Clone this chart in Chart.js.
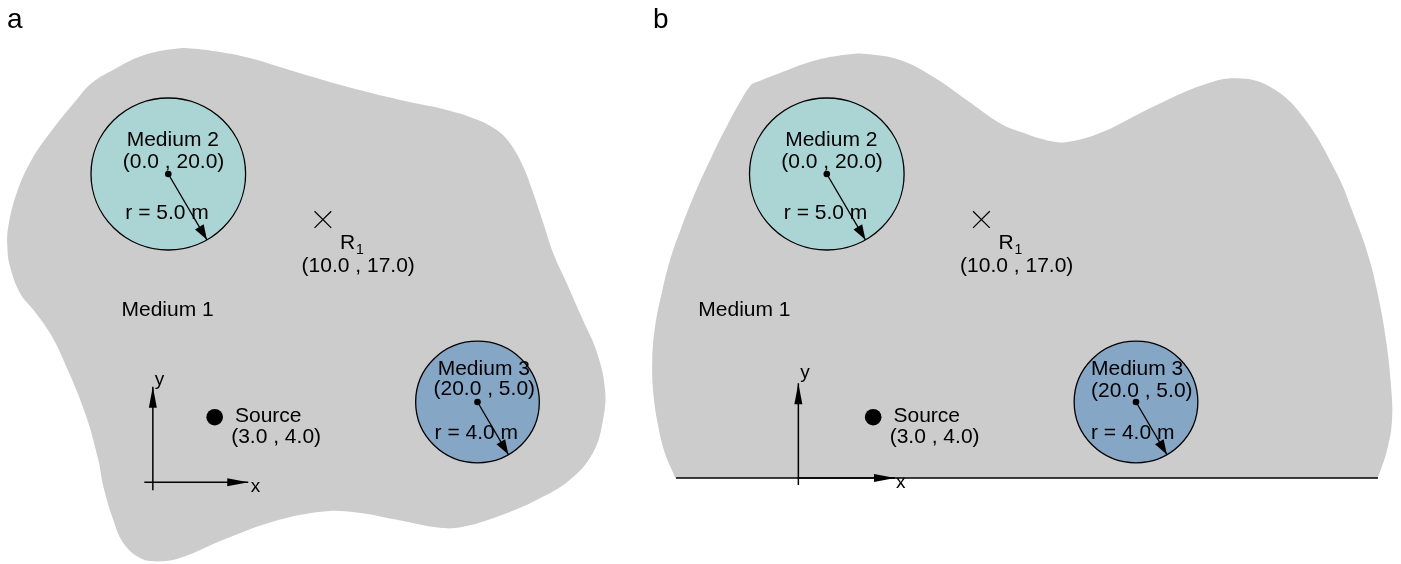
<!DOCTYPE html>
<html>
<head>
<meta charset="utf-8">
<script src="https://cdn.jsdelivr.net/npm/chart.js@4.4.1/dist/chart.umd.min.js"></script>
<style>
  html, body { margin: 0; padding: 0; background: #ffffff; }
  #wrap { position: relative; width: 1401px; height: 564px; overflow: hidden; background: #ffffff; }
  canvas.panel { position: absolute; top: 0; }
</style>
</head>
<body>
<div id="wrap">
  <canvas id="panelA" class="panel" width="650" height="564" style="left:0px"></canvas>
  <canvas id="panelB" class="panel" width="751" height="564" style="left:650px"></canvas>
</div>
<script>
// ------------------------------------------------------------------
// DATA (metres)
// ------------------------------------------------------------------
const mediumNames = ['Medium 2', 'Medium 3'];
const mediumX = [0.0, 20.0];
const mediumY = [20.0, 5.0];
const mediumR = [5.0, 4.0];
const radiusTipX = [2.5, 22.0];
const radiusTipY = [15.67, 1.54];

const receiverName = ['R'];
const receiverIndex = ['1'];
const receiverX = [10.0];
const receiverY = [17.0];

const sourceName = ['Source'];
const sourceX = [3.0];
const sourceY = [4.0];

const axisNames = ['y', 'x'];
// panel a axis arrows: start x, start y, tip x, tip y
const axesAX0 = [-1.0, -1.55];
const axesAY0 = [-0.8, -0.28];
const axesAX1 = [-1.0, 5.17];
const axesAY1 = [6.0, -0.28];
// panel b axis arrows
const axesBX0 = [-1.84, -1.84];
const axesBY0 = [-0.46, 0.0];
const axesBX1 = [-1.84, 4.41];
const axesBY1 = [6.23, 0.0];
// panel b boundary line (half-space surface)
const baseLineX = [-9.75, 35.65];
const baseLineY = [0.0, 0.0];

// Medium 1 label anchors
const medium1A = [-3.03, 10.66];
const medium1B = [-8.31, 10.68];

// outline of medium 1, panel a (closed smooth curve)
const blobAX = [-0.10, 1.19, 3.13, 5.28, 7.42, 11.56, 15.83, 17.57, 19.73, 21.24, 22.10, 22.96, 23.61,
  24.26, 24.90, 25.77, 26.82, 27.73, 28.25, 28.12, 27.47, 25.98, 23.85, 21.26, 19.06, 17.57, 14.79,
  12.19, 10.03, 6.79, 3.56, 0.76, -0.75, -1.83, -2.91, -3.56, -4.20, -4.53, -5.39, -6.79, -7.65,
  -8.73, -9.59, -10.24, -10.41, -10.35, -9.81, -8.84, -7.65, -5.93, -4.95, -3.34, -1.83];
const blobAY = [28.17, 28.28, 28.06, 27.63, 26.97, 25.74, 24.68, 24.32, 23.66, 22.89, 22.02, 20.48, 18.73,
  16.76, 14.78, 12.81, 10.39, 8.24, 5.80, 3.83, 1.66, -0.12, -1.43, -2.55, -3.21, -3.28, -2.75,
  -2.27, -2.20, -2.86, -4.07, -5.27, -5.49, -5.27, -4.28, -2.75, -0.56, 1.20, 4.29, 7.78, 9.53,
  11.07, 12.16, 13.91, 15.23, 16.55, 18.74, 20.93, 22.71, 24.88, 25.98, 26.97, 27.73];

// outline of medium 1, panel b (half-space, cut by the surface y = 0)
const blobBX = [-4.86, -2.83, -0.65, 1.50, 2.58, 4.73, 6.87, 9.05, 11.20, 12.50, 14.63, 15.73, 17.87,
  21.10, 24.33, 26.51, 28.67, 30.80, 32.98, 34.04, 35.01, 35.65, 36.17, 36.49, 36.56, 36.24, 35.65,
  35.0, -9.24, -9.82, -10.47, -10.90, -11.22, -11.29, -11.11, -10.68, -10.14, -9.39, -8.53, -7.45,
  -6.37, -5.29, -4.86];
const blobBY = [25.92, 26.73, 27.50, 27.88, 27.89, 27.50, 26.40, 24.87, 23.34, 22.78, 22.13, 22.13, 22.78,
  24.43, 25.86, 26.30, 25.74, 23.77, 20.05, 17.43, 14.67, 12.04, 9.08, 6.12, 3.82, 1.84, 0.03,
  -1.78, -1.78, 0.03, 1.63, 3.38, 5.57, 7.76, 9.95, 12.15, 14.34, 16.53, 18.73, 21.14,
  23.34, 25.31, 25.92];

// ------------------------------------------------------------------
// LAYOUT / STYLE
// ------------------------------------------------------------------
const KX = 15.46;   // px per metre, horizontal
const KY = 15.2;    // px per metre, vertical
const Y0 = 478;     // pixel row of y = 0
const FONT = s => `${s}px "Liberation Sans", Arial, Helvetica, sans-serif`;
const COLORS = { blob: '#cccccc', media: ['#abd5d4', '#86a6c6'], ink: '#000000' };

const m2Offsets = [[-41.6, -28.2], [-45.5, -6.5], [-43.0, 45.1]];
const panels = [
  {
    canvas: 'panelA', left: 0, width: 650, originX: 168.3, bottomPad: 0,
    caption: 'a', captionPos: [7, 27.5],
    blobX: blobAX, blobY: blobAY, closed: true,
    ax0: axesAX0, ay0: axesAY0, ax1: axesAX1, ay1: axesAY1,
    baseline: false, medium1: medium1A,
    mediumOffsets: [m2Offsets, [[-39.8, -27.2], [-44.0, -7.2], [-42.9, 37.1]]],
    axisLabelOffsets: [[2.0, -2.0], [2.4, 10.0]]
  },
  {
    canvas: 'panelB', left: 650, width: 751, originX: 826.8, bottomPad: 86,
    caption: 'b', captionPos: [3, 28],
    blobX: blobBX, blobY: blobBY, closed: false,
    ax0: axesBX0, ay0: axesBY0, ax1: axesBX1, ay1: axesBY1,
    baseline: true, medium1: medium1B,
    mediumOffsets: [m2Offsets, [[-45.0, -27.2], [-45.0, -5.5], [-45.0, 37.1]]],
    axisLabelOffsets: [[2.0, -5.0], [1.0, 10.0]]
  }
];

function pts(xs, ys) { return xs.map((x, i) => ({ x: x, y: ys[i] })); }

function lineDataset(label, data, width) {
  return {
    label: label, data: data, showLine: true, fill: false, tension: 0,
    borderColor: COLORS.ink, borderWidth: width, pointRadius: 0, clip: false, order: 1
  };
}

function buildDatasets(p) {
  const ds = [];
  ds.push({ label: 'centres', data: pts(mediumX, mediumY), showLine: false, pointRadius: 3.3,
    pointBackgroundColor: COLORS.ink, pointBorderWidth: 0, clip: false, order: 0 });
  ds.push({ label: 'source', data: pts(sourceX, sourceY), showLine: false, pointRadius: 8.3,
    pointBackgroundColor: COLORS.ink, pointBorderWidth: 0, clip: false, order: 0 });
  ds.push({ label: 'receiver', data: pts(receiverX, receiverY), showLine: false, pointStyle: 'crossRot',
    pointRadius: 11.8, pointBorderColor: COLORS.ink, pointBorderWidth: 1.2,
    pointBackgroundColor: 'rgba(0,0,0,0)', clip: false, order: 0 });
  mediumX.forEach((x, i) => {
    ds.push(lineDataset('radius ' + i, [{ x: x, y: mediumY[i] }, { x: radiusTipX[i], y: radiusTipY[i] }], 1.3));
  });
  p.ax0.forEach((x, i) => {
    ds.push(lineDataset('axis ' + axisNames[i], [{ x: x, y: p.ay0[i] }, { x: p.ax1[i], y: p.ay1[i] }], 1.5));
  });
  if (p.baseline) ds.push(lineDataset('surface', pts(baseLineX, baseLineY), 1.6));
  let bx = p.blobX.slice(), by = p.blobY.slice();
  if (p.closed) { bx = bx.concat(bx.slice(0, 2)); by = by.concat(by.slice(0, 2)); }
  ds.push({ label: 'blob', data: pts(bx, by), showLine: true, fill: 'shape', tension: 0.4,
    backgroundColor: COLORS.blob, borderColor: 'rgba(0,0,0,0)', borderWidth: 0,
    pointRadius: 0, clip: 0, order: 10 });
  return ds;
}

function drawMedia(chart) {
  const ctx = chart.ctx, xs = chart.scales.x, ys = chart.scales.y;
  ctx.save();
  mediumX.forEach((mx, i) => {
    const cx = xs.getPixelForValue(mx), cy = ys.getPixelForValue(mediumY[i]);
    const rx = Math.abs(xs.getPixelForValue(mx + mediumR[i]) - cx);
    const ry = Math.abs(ys.getPixelForValue(mediumY[i] + mediumR[i]) - cy);
    ctx.beginPath();
    ctx.ellipse(cx, cy, rx, ry, 0, 0, Math.PI * 2);
    ctx.fillStyle = COLORS.media[i];
    ctx.fill();
    ctx.lineWidth = 1.3;
    ctx.strokeStyle = COLORS.ink;
    ctx.stroke();
  });
  ctx.restore();
}

function arrowHead(ctx, x0, y0, x1, y1, len, wid) {
  const a = Math.atan2(y1 - y0, x1 - x0);
  const bx = x1 - len * Math.cos(a), by = y1 - len * Math.sin(a);
  const nx = -Math.sin(a) * wid / 2, ny = Math.cos(a) * wid / 2;
  ctx.beginPath();
  ctx.moveTo(x1, y1);
  ctx.lineTo(bx + nx, by + ny);
  ctx.lineTo(bx - nx, by - ny);
  ctx.closePath();
  ctx.fill();
}

function drawOverlay(chart, p) {
  const ctx = chart.ctx, xs = chart.scales.x, ys = chart.scales.y;
  const px = v => xs.getPixelForValue(v), py = v => ys.getPixelForValue(v);
  ctx.save();
  ctx.fillStyle = COLORS.ink;
  // arrow heads
  mediumX.forEach((x, i) => arrowHead(ctx, px(x), py(mediumY[i]), px(radiusTipX[i]), py(radiusTipY[i]), 15, 10));
  p.ax0.forEach((x, i) => arrowHead(ctx, px(x), py(p.ay0[i]), px(p.ax1[i]), py(p.ay1[i]), 21, 8));
  // texts
  ctx.textAlign = 'left';
  ctx.textBaseline = 'alphabetic';
  ctx.font = FONT(21);
  mediumNames.forEach((name, i) => {
    const cx = px(mediumX[i]), cy = py(mediumY[i]);
    const lines = [name, '(' + mediumX[i].toFixed(1) + ' , ' + mediumY[i].toFixed(1) + ')',
      'r = ' + mediumR[i].toFixed(1) + ' m'];
    lines.forEach((t, k) => {
      const o = p.mediumOffsets[i][k];
      ctx.fillText(t, cx + o[0], cy + o[1]);
    });
  });
  receiverX.forEach((rx, i) => {
    const cx = px(rx), cy = py(receiverY[i]);
    ctx.font = FONT(21);
    ctx.fillText(receiverName[i], cx + 17.1, cy + 29.4);
    const w = ctx.measureText(receiverName[i]).width;
    ctx.fillText('(' + rx.toFixed(1) + ' , ' + receiverY[i].toFixed(1) + ')', cx - 21.3, cy + 52.1);
    ctx.font = FONT(14);
    ctx.fillText(receiverIndex[i], cx + 17.1 + w + 0.8, cy + 34.7);
  });
  ctx.font = FONT(21);
  sourceX.forEach((sx, i) => {
    const cx = px(sx), cy = py(sourceY[i]);
    ctx.fillText(sourceName[i], cx + 20.3, cy + 4.5);
    ctx.fillText('(' + sx.toFixed(1) + ' , ' + sourceY[i].toFixed(1) + ')', cx + 16.5, cy + 25.5);
  });
  ctx.fillText('Medium 1', px(p.medium1[0]), py(p.medium1[1]));
  ctx.font = FONT(19);
  axisNames.forEach((n, i) => {
    const o = p.axisLabelOffsets[i];
    ctx.fillText(n, px(p.ax1[i]) + o[0], py(p.ay1[i]) + o[1]);
  });
  // panel caption
  ctx.font = FONT(28);
  ctx.fillText(p.caption, p.captionPos[0], p.captionPos[1]);
  ctx.restore();
}

panels.forEach(p => {
  const plugin = {
    id: 'diagram_' + p.caption,
    afterDatasetDraw(chart, args) {
      if (chart.data.datasets[args.index].label === 'blob') drawMedia(chart);
    },
    afterDatasetsDraw(chart) { drawOverlay(chart, p); }
  };
  const chartBottom = 564 - p.bottomPad;
  new Chart(document.getElementById(p.canvas), {
    type: 'scatter',
    data: { datasets: buildDatasets(p) },
    options: {
      responsive: false,
      devicePixelRatio: 1,
      animation: false,
      events: [],
      layout: { padding: { left: 0, right: 0, top: 0, bottom: p.bottomPad }, autoPadding: false },
      plugins: { legend: { display: false }, tooltip: { enabled: false }, title: { display: false } },
      scales: {
        x: { type: 'linear', display: false, bounds: 'data', grace: 0,
          min: (p.left - p.originX) / KX, max: (p.left + p.width - p.originX) / KX },
        y: { type: 'linear', display: false, bounds: 'data', grace: 0,
          min: (Y0 - chartBottom) / KY, max: Y0 / KY }
      }
    },
    plugins: [plugin]
  });
});
</script>
</body>
</html>
